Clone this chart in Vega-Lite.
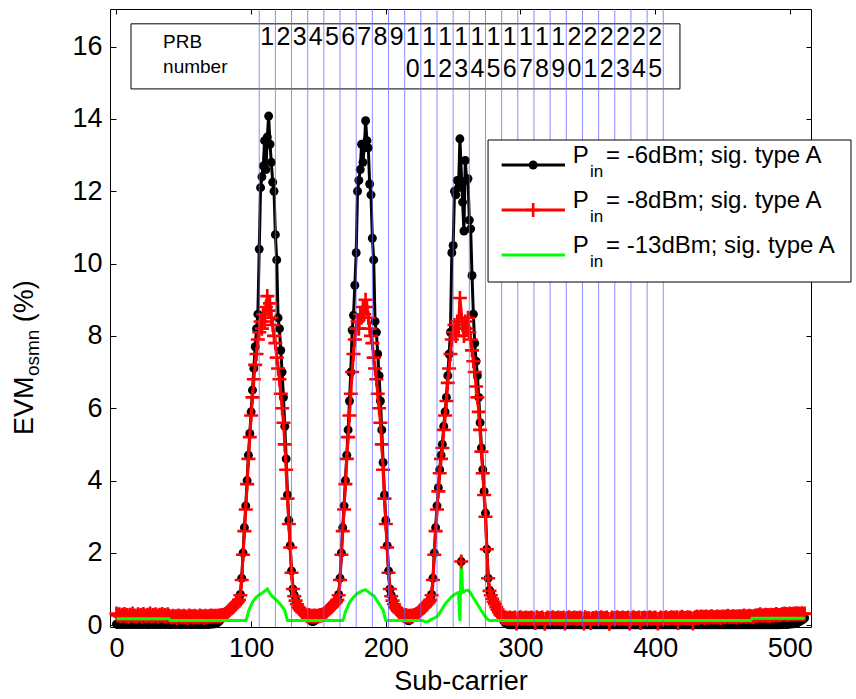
{
"$schema":"https://vega.github.io/schema/vega-lite/v6.json",
"width":701,"height":618,
"autosize":{"type":"none"},
"padding":{"left":110,"top":9,"right":45,"bottom":72},
"background":"white",
"config":{"view":{"stroke":"black","strokeWidth":1},"font":"Liberation Sans",
"axis":{"grid":false,"domain":false,"tickColor":"black","tickWidth":1,"labelColor":"black","titleColor":"black","labelFont":"Liberation Sans","titleFont":"Liberation Sans","labelFontSize":27,"titleFontSize":27,"titleFontWeight":"normal","labelFlush":false,"labelOverlap":false}},
"datasets":{
"main":[
{"s":0,"b":0.03,"r":0.32,"g":0.18},{"s":1,"b":0.02,"r":0.27,"g":0.18},{"s":2,"b":0.04,"r":0.30,"g":0.18},{"s":3,"b":0.03,"r":0.24,"g":0.18},{"s":4,"b":0.02,"r":0.29,"g":0.18},{"s":5,"b":0.03,"r":0.26,"g":0.18},{"s":6,"b":0.04,"r":0.31,"g":0.18},{"s":7,"b":0.02,"r":0.25,"g":0.18},{"s":8,"b":0.03,"r":0.28,"g":0.18},{"s":9,"b":0.02,"r":0.23,"g":0.18},
{"s":10,"b":0.04,"r":0.29,"g":0.18},{"s":11,"b":0.03,"r":0.26,"g":0.18},{"s":12,"b":0.02,"r":0.32,"g":0.18},{"s":13,"b":0.03,"r":0.25,"g":0.18},{"s":14,"b":0.04,"r":0.27,"g":0.18},{"s":15,"b":0.02,"r":0.24,"g":0.18},{"s":16,"b":0.03,"r":0.30,"g":0.18},{"s":17,"b":0.02,"r":0.26,"g":0.18},{"s":18,"b":0.04,"r":0.28,"g":0.18},{"s":19,"b":0.03,"r":0.23,"g":0.18},
{"s":20,"b":0.02,"r":0.31,"g":0.18},{"s":21,"b":0.03,"r":0.27,"g":0.18},{"s":22,"b":0.04,"r":0.25,"g":0.18},{"s":23,"b":0.02,"r":0.29,"g":0.18},{"s":24,"b":0.03,"r":0.26,"g":0.18},{"s":25,"b":0.02,"r":0.32,"g":0.18},{"s":26,"b":0.04,"r":0.24,"g":0.18},{"s":27,"b":0.03,"r":0.28,"g":0.18},{"s":28,"b":0.02,"r":0.25,"g":0.18},{"s":29,"b":0.03,"r":0.30,"g":0.18},
{"s":30,"b":0.04,"r":0.27,"g":0.18},{"s":31,"b":0.02,"r":0.23,"g":0.18},{"s":32,"b":0.03,"r":0.29,"g":0.18},{"s":33,"b":0.02,"r":0.26,"g":0.18},{"s":34,"b":0.04,"r":0.31,"g":0.18},{"s":35,"b":0.03,"r":0.25,"g":0.18},{"s":36,"b":0.02,"r":0.28,"g":0.18},{"s":37,"b":0.03,"r":0.24,"g":0.18},{"s":38,"b":0.04,"r":0.30,"g":0.18},{"s":39,"b":0.02,"r":0.26,"g":0.18},
{"s":40,"b":0.03,"r":0.24,"g":0.13},{"s":41,"b":0.02,"r":0.21,"g":0.13},{"s":42,"b":0.04,"r":0.26,"g":0.13},{"s":43,"b":0.03,"r":0.22,"g":0.13},{"s":44,"b":0.02,"r":0.25,"g":0.13},{"s":45,"b":0.03,"r":0.20,"g":0.13},{"s":46,"b":0.04,"r":0.27,"g":0.13},{"s":47,"b":0.02,"r":0.23,"g":0.13},{"s":48,"b":0.03,"r":0.25,"g":0.13},{"s":49,"b":0.02,"r":0.21,"g":0.13},
{"s":50,"b":0.04,"r":0.26,"g":0.13},{"s":51,"b":0.03,"r":0.22,"g":0.13},{"s":52,"b":0.02,"r":0.24,"g":0.13},{"s":53,"b":0.03,"r":0.20,"g":0.13},{"s":54,"b":0.04,"r":0.27,"g":0.13},{"s":55,"b":0.02,"r":0.23,"g":0.13},{"s":56,"b":0.03,"r":0.25,"g":0.13},{"s":57,"b":0.02,"r":0.21,"g":0.13},{"s":58,"b":0.04,"r":0.26,"g":0.13},{"s":59,"b":0.03,"r":0.22,"g":0.13},
{"s":60,"b":0.02,"r":0.24,"g":0.13},{"s":61,"b":0.03,"r":0.21,"g":0.13},{"s":62,"b":0.04,"r":0.27,"g":0.13},{"s":63,"b":0.02,"r":0.23,"g":0.13},{"s":64,"b":0.03,"r":0.25,"g":0.13},{"s":65,"b":0.02,"r":0.20,"g":0.13},{"s":66,"b":0.04,"r":0.26,"g":0.13},{"s":67,"b":0.03,"r":0.22,"g":0.13},{"s":68,"b":0.02,"r":0.25,"g":0.13},{"s":69,"b":0.03,"r":0.23,"g":0.13},
{"s":70,"b":0.04,"r":0.27,"g":0.13},{"s":71,"b":0.03,"r":0.24,"g":0.13},{"s":72,"b":0.04,"r":0.26,"g":0.13},{"s":73,"b":0.04,"r":0.25,"g":0.13},{"s":74,"b":0.05,"r":0.26,"g":0.13},{"s":75,"b":0.07,"r":0.24,"g":0.13},{"s":76,"b":0.10,"r":0.27,"g":0.13},{"s":77,"b":0.14,"r":0.25,"g":0.13},{"s":78,"b":0.18,"r":0.28,"g":0.13},{"s":79,"b":0.22,"r":0.26,"g":0.13},
{"s":80,"b":0.27,"r":0.29,"g":0.13},{"s":81,"b":0.32,"r":0.31,"g":0.13},{"s":82,"b":0.36,"r":0.34,"g":0.13},{"s":83,"b":0.40,"r":0.38,"g":0.13},{"s":84,"b":0.45,"r":0.42,"g":0.13},{"s":85,"b":0.48,"r":0.46,"g":0.13},{"s":86,"b":0.51,"r":0.49,"g":0.13},{"s":87,"b":0.54,"r":0.52,"g":0.13},{"s":88,"b":0.58,"r":0.56,"g":0.13},{"s":89,"b":0.62,"r":0.60,"g":0.13},
{"s":90,"b":0.66,"r":0.64,"g":0.13},{"s":91,"b":0.72,"r":0.70,"g":0.13},{"s":92,"b":0.85,"r":0.83,"g":0.13},{"s":93,"b":1.3,"r":1.25,"g":0.13},{"s":94,"b":2.0,"r":1.95,"g":0.13},{"s":95,"b":2.7,"r":2.6,"g":0.13},{"s":96,"b":3.3,"r":3.2,"g":0.13},{"s":97,"b":4.0,"r":3.9,"g":0.22},{"s":98,"b":4.7,"r":4.6,"g":0.38},{"s":99,"b":5.3,"r":5.2,"g":0.47},
{"s":100,"b":5.9,"r":5.8,"g":0.56},{"s":101,"b":6.5,"r":6.3,"g":0.63},{"s":102,"b":7.1,"r":6.8,"g":0.69},{"s":103,"b":7.7,"r":7.2,"g":0.74},{"s":104,"b":8.2,"r":7.5,"g":0.78},{"s":105,"b":8.6,"r":7.9,"g":0.81},{"s":106,"b":10.4,"r":8.1,"g":0.84},{"s":107,"b":12.1,"r":8.4,"g":0.86},{"s":108,"b":12.4,"r":8.2,"g":0.89},{"s":109,"b":12.7,"r":8.6,"g":0.91},
{"s":110,"b":13.4,"r":8.4,"g":0.94},{"s":111,"b":12.6,"r":8.8,"g":0.97},{"s":112,"b":13.5,"r":9.1,"g":1.0},{"s":113,"b":14.08,"r":8.7,"g":0.94},{"s":114,"b":13.3,"r":8.9,"g":0.88},{"s":115,"b":12.8,"r":8.5,"g":0.83},{"s":116,"b":12.25,"r":8.3,"g":0.79},{"s":117,"b":12.0,"r":8.0,"g":0.75},{"s":118,"b":10.8,"r":7.8,"g":0.72},{"s":119,"b":10.1,"r":7.4,"g":0.69},
{"s":120,"b":8.5,"r":7.1,"g":0.65},{"s":121,"b":8.2,"r":6.8,"g":0.61},{"s":122,"b":7.6,"r":6.4,"g":0.56},{"s":123,"b":7.0,"r":6.0,"g":0.51},{"s":124,"b":6.3,"r":5.6,"g":0.46},{"s":125,"b":5.5,"r":5.0,"g":0.41},{"s":126,"b":4.6,"r":4.3,"g":0.26},{"s":127,"b":3.6,"r":3.5,"g":0.13},{"s":128,"b":2.9,"r":2.8,"g":0.13},{"s":129,"b":2.2,"r":2.15,"g":0.13},
{"s":130,"b":1.5,"r":1.45,"g":0.13},{"s":131,"b":1.0,"r":1.0,"g":0.13},{"s":132,"b":0.83,"r":0.8,"g":0.13},{"s":133,"b":0.7,"r":0.68,"g":0.13},{"s":134,"b":0.6,"r":0.58,"g":0.13},{"s":135,"b":0.53,"r":0.5,"g":0.13},{"s":136,"b":0.47,"r":0.45,"g":0.13},{"s":137,"b":0.42,"r":0.4,"g":0.13},{"s":138,"b":0.38,"r":0.36,"g":0.13},{"s":139,"b":0.34,"r":0.33,"g":0.13},
{"s":140,"b":0.30,"r":0.3,"g":0.13},{"s":141,"b":0.26,"r":0.27,"g":0.13},{"s":142,"b":0.22,"r":0.25,"g":0.13},{"s":143,"b":0.18,"r":0.28,"g":0.13},{"s":144,"b":0.14,"r":0.24,"g":0.13},{"s":145,"b":0.11,"r":0.26,"g":0.13},{"s":146,"b":0.10,"r":0.23,"g":0.13},{"s":147,"b":0.12,"r":0.27,"g":0.13},{"s":148,"b":0.15,"r":0.24,"g":0.13},{"s":149,"b":0.18,"r":0.26,"g":0.13},
{"s":150,"b":0.20,"r":0.25,"g":0.13},{"s":151,"b":0.22,"r":0.28,"g":0.13},{"s":152,"b":0.25,"r":0.26,"g":0.13},{"s":153,"b":0.27,"r":0.29,"g":0.13},{"s":154,"b":0.32,"r":0.31,"g":0.13},{"s":155,"b":0.36,"r":0.34,"g":0.13},{"s":156,"b":0.40,"r":0.38,"g":0.13},{"s":157,"b":0.45,"r":0.42,"g":0.13},{"s":158,"b":0.48,"r":0.46,"g":0.13},{"s":159,"b":0.51,"r":0.49,"g":0.13},
{"s":160,"b":0.54,"r":0.52,"g":0.13},{"s":161,"b":0.58,"r":0.56,"g":0.13},{"s":162,"b":0.62,"r":0.60,"g":0.13},{"s":163,"b":0.66,"r":0.64,"g":0.13},{"s":164,"b":0.72,"r":0.70,"g":0.13},{"s":165,"b":0.85,"r":0.83,"g":0.13},{"s":166,"b":1.3,"r":1.25,"g":0.13},{"s":167,"b":2.0,"r":1.95,"g":0.13},{"s":168,"b":2.7,"r":2.6,"g":0.13},{"s":169,"b":3.3,"r":3.2,"g":0.22},
{"s":170,"b":4.0,"r":3.9,"g":0.38},{"s":171,"b":4.7,"r":4.6,"g":0.45},{"s":172,"b":5.4,"r":5.2,"g":0.54},{"s":173,"b":6.2,"r":5.8,"g":0.62},{"s":174,"b":7.0,"r":6.4,"g":0.68},{"s":175,"b":8.16,"r":7.0,"g":0.73},{"s":176,"b":8.57,"r":7.5,"g":0.78},{"s":177,"b":9.4,"r":7.9,"g":0.81},{"s":178,"b":10.3,"r":8.2,"g":0.85},{"s":179,"b":12.0,"r":8.4,"g":0.88},
{"s":180,"b":12.3,"r":8.2,"g":0.9},{"s":181,"b":12.6,"r":8.6,"g":0.92},{"s":182,"b":13.3,"r":8.5,"g":0.94},{"s":183,"b":12.8,"r":8.8,"g":0.96},{"s":184,"b":13.2,"r":8.6,"g":0.97},{"s":185,"b":13.95,"r":9.0,"g":0.98},{"s":186,"b":13.4,"r":8.8,"g":0.95},{"s":187,"b":13.2,"r":8.5,"g":0.92},{"s":188,"b":12.2,"r":8.2,"g":0.89},{"s":189,"b":11.9,"r":8.0,"g":0.86},
{"s":190,"b":10.7,"r":7.8,"g":0.84},{"s":191,"b":10.1,"r":7.4,"g":0.82},{"s":192,"b":8.4,"r":7.1,"g":0.77},{"s":193,"b":8.1,"r":6.8,"g":0.71},{"s":194,"b":7.5,"r":6.4,"g":0.65},{"s":195,"b":6.9,"r":6.0,"g":0.59},{"s":196,"b":6.2,"r":5.6,"g":0.53},{"s":197,"b":5.4,"r":5.0,"g":0.47},{"s":198,"b":4.5,"r":4.3,"g":0.42},{"s":199,"b":3.6,"r":3.5,"g":0.25},
{"s":200,"b":2.9,"r":2.8,"g":0.13},{"s":201,"b":2.2,"r":2.15,"g":0.13},{"s":202,"b":1.5,"r":1.45,"g":0.13},{"s":203,"b":1.0,"r":1.0,"g":0.13},{"s":204,"b":0.83,"r":0.8,"g":0.13},{"s":205,"b":0.7,"r":0.68,"g":0.13},{"s":206,"b":0.6,"r":0.58,"g":0.13},{"s":207,"b":0.53,"r":0.5,"g":0.13},{"s":208,"b":0.47,"r":0.45,"g":0.13},{"s":209,"b":0.42,"r":0.4,"g":0.13},
{"s":210,"b":0.38,"r":0.36,"g":0.13},{"s":211,"b":0.34,"r":0.33,"g":0.13},{"s":212,"b":0.30,"r":0.3,"g":0.13},{"s":213,"b":0.26,"r":0.27,"g":0.13},{"s":214,"b":0.22,"r":0.25,"g":0.13},{"s":215,"b":0.18,"r":0.28,"g":0.13},{"s":216,"b":0.14,"r":0.24,"g":0.13},{"s":217,"b":0.12,"r":0.26,"g":0.13},{"s":218,"b":0.15,"r":0.23,"g":0.13},{"s":219,"b":0.18,"r":0.27,"g":0.13},
{"s":220,"b":0.21,"r":0.25,"g":0.13},{"s":221,"b":0.24,"r":0.28,"g":0.13},{"s":222,"b":0.27,"r":0.29,"g":0.13},{"s":223,"b":0.32,"r":0.31,"g":0.13},{"s":224,"b":0.36,"r":0.34,"g":0.13},{"s":225,"b":0.40,"r":0.38,"g":0.13},{"s":226,"b":0.45,"r":0.42,"g":0.13},{"s":227,"b":0.48,"r":0.46,"g":0.13},{"s":228,"b":0.51,"r":0.49,"g":0.12},{"s":229,"b":0.54,"r":0.52,"g":0.10},
{"s":230,"b":0.58,"r":0.56,"g":0.09},{"s":231,"b":0.62,"r":0.60,"g":0.10},{"s":232,"b":0.66,"r":0.64,"g":0.12},{"s":233,"b":0.72,"r":0.70,"g":0.14},{"s":234,"b":0.85,"r":0.83,"g":0.16},{"s":235,"b":1.3,"r":1.25,"g":0.18},{"s":236,"b":2.0,"r":1.95,"g":0.2},{"s":237,"b":2.7,"r":2.6,"g":0.22},{"s":238,"b":3.3,"r":3.2,"g":0.24},{"s":239,"b":3.8,"r":3.7,"g":0.28},
{"s":240,"b":4.3,"r":4.2,"g":0.34},{"s":241,"b":4.7,"r":4.6,"g":0.4},{"s":242,"b":5.0,"r":4.9,"g":0.46},{"s":243,"b":5.5,"r":5.4,"g":0.52},{"s":244,"b":5.9,"r":5.8,"g":0.58},{"s":245,"b":6.3,"r":6.2,"g":0.63},{"s":246,"b":6.9,"r":6.7,"g":0.67},{"s":247,"b":7.5,"r":7.1,"g":0.71},{"s":248,"b":8.1,"r":7.5,"g":0.75},{"s":249,"b":10.3,"r":7.9,"g":0.79},
{"s":250,"b":10.5,"r":8.1,"g":0.82},{"s":251,"b":12.0,"r":8.3,"g":0.85},{"s":252,"b":11.9,"r":8.0,"g":0.87},{"s":253,"b":12.3,"r":8.4,"g":0.89},{"s":254,"b":12.1,"r":8.2,"g":0.9},{"s":255,"b":13.45,"r":9.05,"g":0.12},{"s":256,"b":null,"r":null,"g":1.94},{"s":257,"b":11.7,"r":8.3,"g":0.91},{"s":258,"b":10.9,"r":8.0,"g":0.93},{"s":259,"b":12.85,"r":8.4,"g":0.95},
{"s":260,"b":12.3,"r":8.2,"g":0.96},{"s":261,"b":12.35,"r":8.5,"g":0.97},{"s":262,"b":11.2,"r":8.1,"g":0.94},{"s":263,"b":10.96,"r":7.9,"g":0.88},{"s":264,"b":9.67,"r":7.6,"g":0.82},{"s":265,"b":8.6,"r":7.3,"g":0.76},{"s":266,"b":7.8,"r":7.0,"g":0.7},{"s":267,"b":7.3,"r":6.6,"g":0.64},{"s":268,"b":6.9,"r":6.3,"g":0.58},{"s":269,"b":6.3,"r":5.9,"g":0.52},
{"s":270,"b":5.6,"r":5.4,"g":0.46},{"s":271,"b":4.9,"r":4.8,"g":0.4},{"s":272,"b":4.3,"r":4.2,"g":0.34},{"s":273,"b":3.7,"r":3.6,"g":0.28},{"s":274,"b":3.1,"r":3.0,"g":0.23},{"s":275,"b":2.1,"r":2.1,"g":0.19},{"s":276,"b":1.3,"r":1.3,"g":0.15},{"s":277,"b":0.97,"r":0.95,"g":0.13},{"s":278,"b":0.85,"r":0.83,"g":0.13},{"s":279,"b":0.75,"r":0.73,"g":0.13},
{"s":280,"b":0.67,"r":0.65,"g":0.13},{"s":281,"b":0.6,"r":0.58,"g":0.13},{"s":282,"b":0.52,"r":0.5,"g":0.13},{"s":283,"b":0.45,"r":0.43,"g":0.13},{"s":284,"b":0.38,"r":0.36,"g":0.13},{"s":285,"b":0.3,"r":0.3,"g":0.13},{"s":286,"b":0.22,"r":0.26,"g":0.13},{"s":287,"b":0.15,"r":0.22,"g":0.13},{"s":288,"b":0.1,"r":0.19,"g":0.13},{"s":289,"b":0.06,"r":0.21,"g":0.13},
{"s":290,"b":0.04,"r":0.18,"g":0.13},{"s":291,"b":0.02,"r":0.19,"g":0.13},{"s":292,"b":0.01,"r":0.21,"g":0.13},{"s":293,"b":0.02,"r":0.18,"g":0.13},{"s":294,"b":0.01,"r":0.20,"g":0.13},{"s":295,"b":0.03,"r":0.17,"g":0.13},{"s":296,"b":0.01,"r":0.21,"g":0.13},{"s":297,"b":0.02,"r":0.05,"g":0.13},{"s":298,"b":0.01,"r":0.18,"g":0.13},{"s":299,"b":0.02,"r":0.20,"g":0.13},
{"s":300,"b":0.01,"r":0.22,"g":0.13},{"s":301,"b":0.03,"r":0.18,"g":0.13},{"s":302,"b":0.01,"r":0.19,"g":0.13},{"s":303,"b":0.02,"r":0.19,"g":0.13},{"s":304,"b":0.01,"r":0.21,"g":0.13},{"s":305,"b":0.02,"r":0.18,"g":0.13},{"s":306,"b":0.01,"r":0.20,"g":0.13},{"s":307,"b":0.03,"r":0.17,"g":0.13},{"s":308,"b":0.01,"r":0.21,"g":0.13},{"s":309,"b":0.02,"r":0.19,"g":0.13},
{"s":310,"b":0.01,"r":0.18,"g":0.13},{"s":311,"b":0.02,"r":0.06,"g":0.13},{"s":312,"b":0.01,"r":0.22,"g":0.13},{"s":313,"b":0.03,"r":0.18,"g":0.13},{"s":314,"b":0.01,"r":0.19,"g":0.13},{"s":315,"b":0.02,"r":0.19,"g":0.13},{"s":316,"b":0.01,"r":0.21,"g":0.13},{"s":317,"b":0.02,"r":0.18,"g":0.13},{"s":318,"b":0.01,"r":0.04,"g":0.13},{"s":319,"b":0.03,"r":0.17,"g":0.13},
{"s":320,"b":0.01,"r":0.21,"g":0.13},{"s":321,"b":0.02,"r":0.19,"g":0.13},{"s":322,"b":0.01,"r":0.18,"g":0.13},{"s":323,"b":0.02,"r":0.20,"g":0.13},{"s":324,"b":0.01,"r":0.22,"g":0.13},{"s":325,"b":0.03,"r":0.18,"g":0.13},{"s":326,"b":0.01,"r":0.19,"g":0.13},{"s":327,"b":0.02,"r":0.19,"g":0.13},{"s":328,"b":0.01,"r":0.21,"g":0.13},{"s":329,"b":0.02,"r":0.18,"g":0.13},
{"s":330,"b":0.01,"r":0.20,"g":0.13},{"s":331,"b":0.03,"r":0.17,"g":0.13},{"s":332,"b":0.01,"r":0.21,"g":0.13},{"s":333,"b":0.02,"r":0.05,"g":0.13},{"s":334,"b":0.01,"r":0.18,"g":0.13},{"s":335,"b":0.02,"r":0.20,"g":0.13},{"s":336,"b":0.01,"r":0.22,"g":0.13},{"s":337,"b":0.03,"r":0.18,"g":0.13},{"s":338,"b":0.01,"r":0.19,"g":0.13},{"s":339,"b":0.02,"r":0.19,"g":0.13},
{"s":340,"b":0.01,"r":0.21,"g":0.13},{"s":341,"b":0.02,"r":0.18,"g":0.13},{"s":342,"b":0.01,"r":0.20,"g":0.13},{"s":343,"b":0.03,"r":0.17,"g":0.13},{"s":344,"b":0.01,"r":0.21,"g":0.13},{"s":345,"b":0.02,"r":0.19,"g":0.13},{"s":346,"b":0.01,"r":0.18,"g":0.13},{"s":347,"b":0.02,"r":0.05,"g":0.13},{"s":348,"b":0.01,"r":0.22,"g":0.13},{"s":349,"b":0.03,"r":0.18,"g":0.13},
{"s":350,"b":0.01,"r":0.19,"g":0.13},{"s":351,"b":0.02,"r":0.19,"g":0.13},{"s":352,"b":0.01,"r":0.06,"g":0.13},{"s":353,"b":0.02,"r":0.18,"g":0.13},{"s":354,"b":0.01,"r":0.20,"g":0.13},{"s":355,"b":0.03,"r":0.17,"g":0.13},{"s":356,"b":0.01,"r":0.21,"g":0.13},{"s":357,"b":0.02,"r":0.19,"g":0.13},{"s":358,"b":0.01,"r":0.18,"g":0.13},{"s":359,"b":0.02,"r":0.20,"g":0.13},
{"s":360,"b":0.01,"r":0.22,"g":0.13},{"s":361,"b":0.03,"r":0.18,"g":0.13},{"s":362,"b":0.01,"r":0.19,"g":0.13},{"s":363,"b":0.02,"r":0.19,"g":0.13},{"s":364,"b":0.01,"r":0.21,"g":0.13},{"s":365,"b":0.02,"r":0.18,"g":0.13},{"s":366,"b":0.01,"r":0.04,"g":0.13},{"s":367,"b":0.03,"r":0.17,"g":0.13},{"s":368,"b":0.01,"r":0.21,"g":0.13},{"s":369,"b":0.02,"r":0.19,"g":0.13},
{"s":370,"b":0.01,"r":0.18,"g":0.13},{"s":371,"b":0.02,"r":0.20,"g":0.13},{"s":372,"b":0.01,"r":0.22,"g":0.13},{"s":373,"b":0.03,"r":0.18,"g":0.13},{"s":374,"b":0.01,"r":0.19,"g":0.13},{"s":375,"b":0.02,"r":0.19,"g":0.13},{"s":376,"b":0.01,"r":0.21,"g":0.13},{"s":377,"b":0.02,"r":0.18,"g":0.13},{"s":378,"b":0.01,"r":0.20,"g":0.13},{"s":379,"b":0.03,"r":0.17,"g":0.13},
{"s":380,"b":0.01,"r":0.21,"g":0.13},{"s":381,"b":0.02,"r":0.05,"g":0.13},{"s":382,"b":0.01,"r":0.18,"g":0.13},{"s":383,"b":0.02,"r":0.20,"g":0.13},{"s":384,"b":0.01,"r":0.22,"g":0.13},{"s":385,"b":0.03,"r":0.18,"g":0.13},{"s":386,"b":0.01,"r":0.19,"g":0.13},{"s":387,"b":0.02,"r":0.19,"g":0.13},{"s":388,"b":0.01,"r":0.21,"g":0.13},{"s":389,"b":0.02,"r":0.06,"g":0.13},
{"s":390,"b":0.01,"r":0.20,"g":0.13},{"s":391,"b":0.03,"r":0.17,"g":0.13},{"s":392,"b":0.01,"r":0.21,"g":0.13},{"s":393,"b":0.02,"r":0.19,"g":0.13},{"s":394,"b":0.01,"r":0.18,"g":0.13},{"s":395,"b":0.02,"r":0.20,"g":0.13},{"s":396,"b":0.01,"r":0.22,"g":0.13},{"s":397,"b":0.03,"r":0.18,"g":0.13},{"s":398,"b":0.01,"r":0.19,"g":0.13},{"s":399,"b":0.02,"r":0.19,"g":0.13},
{"s":400,"b":0.01,"r":0.21,"g":0.13},{"s":401,"b":0.02,"r":0.18,"g":0.13},{"s":402,"b":0.01,"r":0.05,"g":0.13},{"s":403,"b":0.03,"r":0.17,"g":0.13},{"s":404,"b":0.01,"r":0.21,"g":0.13},{"s":405,"b":0.02,"r":0.19,"g":0.13},{"s":406,"b":0.01,"r":0.18,"g":0.13},{"s":407,"b":0.02,"r":0.20,"g":0.13},{"s":408,"b":0.01,"r":0.22,"g":0.13},{"s":409,"b":0.03,"r":0.18,"g":0.13},
{"s":410,"b":0.01,"r":0.19,"g":0.13},{"s":411,"b":0.02,"r":0.20,"g":0.13},{"s":412,"b":0.01,"r":0.22,"g":0.13},{"s":413,"b":0.02,"r":0.19,"g":0.13},{"s":414,"b":0.01,"r":0.21,"g":0.13},{"s":415,"b":0.03,"r":0.18,"g":0.13},{"s":416,"b":0.01,"r":0.22,"g":0.13},{"s":417,"b":0.02,"r":0.06,"g":0.13},{"s":418,"b":0.01,"r":0.19,"g":0.13},{"s":419,"b":0.02,"r":0.21,"g":0.13},
{"s":420,"b":0.01,"r":0.23,"g":0.13},{"s":421,"b":0.03,"r":0.19,"g":0.13},{"s":422,"b":0.01,"r":0.20,"g":0.13},{"s":423,"b":0.02,"r":0.20,"g":0.13},{"s":424,"b":0.01,"r":0.22,"g":0.13},{"s":425,"b":0.02,"r":0.19,"g":0.13},{"s":426,"b":0.01,"r":0.21,"g":0.13},{"s":427,"b":0.03,"r":0.18,"g":0.13},{"s":428,"b":0.01,"r":0.05,"g":0.13},{"s":429,"b":0.02,"r":0.20,"g":0.13},
{"s":430,"b":0.01,"r":0.22,"g":0.13},{"s":431,"b":0.02,"r":0.24,"g":0.13},{"s":432,"b":0.01,"r":0.21,"g":0.13},{"s":433,"b":0.03,"r":0.22,"g":0.13},{"s":434,"b":0.01,"r":0.24,"g":0.13},{"s":435,"b":0.02,"r":0.21,"g":0.13},{"s":436,"b":0.01,"r":0.23,"g":0.13},{"s":437,"b":0.02,"r":0.20,"g":0.13},{"s":438,"b":0.01,"r":0.24,"g":0.13},{"s":439,"b":0.03,"r":0.22,"g":0.13},
{"s":440,"b":0.01,"r":0.21,"g":0.13},{"s":441,"b":0.02,"r":0.23,"g":0.13},{"s":442,"b":0.01,"r":0.25,"g":0.13},{"s":443,"b":0.02,"r":0.21,"g":0.13},{"s":444,"b":0.01,"r":0.22,"g":0.13},{"s":445,"b":0.03,"r":0.22,"g":0.13},{"s":446,"b":0.01,"r":0.24,"g":0.13},{"s":447,"b":0.02,"r":0.21,"g":0.13},{"s":448,"b":0.01,"r":0.23,"g":0.13},{"s":449,"b":0.02,"r":0.20,"g":0.13},
{"s":450,"b":0.01,"r":0.24,"g":0.13},{"s":451,"b":0.03,"r":0.23,"g":0.13},{"s":452,"b":0.01,"r":0.22,"g":0.13},{"s":453,"b":0.02,"r":0.24,"g":0.13},{"s":454,"b":0.01,"r":0.26,"g":0.13},{"s":455,"b":0.02,"r":0.22,"g":0.13},{"s":456,"b":0.01,"r":0.23,"g":0.13},{"s":457,"b":0.03,"r":0.23,"g":0.13},{"s":458,"b":0.01,"r":0.25,"g":0.13},{"s":459,"b":0.02,"r":0.22,"g":0.13},
{"s":460,"b":0.01,"r":0.24,"g":0.13},{"s":461,"b":0.02,"r":0.21,"g":0.13},{"s":462,"b":0.01,"r":0.25,"g":0.13},{"s":463,"b":0.03,"r":0.24,"g":0.13},{"s":464,"b":0.01,"r":0.23,"g":0.13},{"s":465,"b":0.02,"r":0.25,"g":0.13},{"s":466,"b":0.01,"r":0.27,"g":0.13},{"s":467,"b":0.02,"r":0.23,"g":0.13},{"s":468,"b":0.01,"r":0.24,"g":0.13},{"s":469,"b":0.03,"r":0.24,"g":0.13},
{"s":470,"b":0.01,"r":0.26,"g":0.13},{"s":471,"b":0.02,"r":0.23,"g":0.13},{"s":472,"b":0.01,"r":0.25,"g":0.19},{"s":473,"b":0.02,"r":0.22,"g":0.19},{"s":474,"b":0.01,"r":0.26,"g":0.19},{"s":475,"b":0.03,"r":0.27,"g":0.19},{"s":476,"b":0.01,"r":0.26,"g":0.19},{"s":477,"b":0.02,"r":0.28,"g":0.19},{"s":478,"b":0.01,"r":0.30,"g":0.19},{"s":479,"b":0.02,"r":0.26,"g":0.19},
{"s":480,"b":0.01,"r":0.27,"g":0.19},{"s":481,"b":0.03,"r":0.27,"g":0.19},{"s":482,"b":0.01,"r":0.29,"g":0.19},{"s":483,"b":0.02,"r":0.26,"g":0.19},{"s":484,"b":0.01,"r":0.28,"g":0.19},{"s":485,"b":0.02,"r":0.25,"g":0.19},{"s":486,"b":0.01,"r":0.29,"g":0.19},{"s":487,"b":0.03,"r":0.28,"g":0.19},{"s":488,"b":0.01,"r":0.27,"g":0.19},{"s":489,"b":0.02,"r":0.29,"g":0.19},
{"s":490,"b":0.01,"r":0.31,"g":0.19},{"s":491,"b":0.02,"r":0.27,"g":0.19},{"s":492,"b":0.01,"r":0.28,"g":0.19},{"s":493,"b":0.03,"r":0.28,"g":0.19},{"s":494,"b":0.02,"r":0.30,"g":0.19},{"s":495,"b":0.02,"r":0.30,"g":0.19},{"s":496,"b":0.02,"r":0.32,"g":0.19},{"s":497,"b":0.03,"r":0.29,"g":0.19},{"s":498,"b":0.02,"r":0.31,"g":0.19},{"s":499,"b":0.03,"r":0.28,"g":0.19},
{"s":500,"b":0.04,"r":0.32,"g":0.19},{"s":501,"b":0.03,"r":0.31,"g":0.19},{"s":502,"b":0.05,"r":0.30,"g":0.19},{"s":503,"b":0.04,"r":0.32,"g":0.19},{"s":504,"b":0.05,"r":0.30,"g":0.19},{"s":505,"b":0.06,"r":0.33,"g":0.19},{"s":506,"b":0.08,"r":0.31,"g":0.19},{"s":507,"b":0.10,"r":0.32,"g":0.19},{"s":508,"b":0.12,"r":0.30,"g":0.19},{"s":509,"b":0.14,"r":0.33,"g":0.19},
{"s":510,"b":0.17,"r":0.31,"g":0.19},{"s":511,"b":0.20,"r":0.32,"g":0.19}
],
"dc":[{"s":256,"b":1.76,"r":1.76}],
"edges":[{"e":106},{"e":118},{"e":130},{"e":142},{"e":154},{"e":166},{"e":178},{"e":190},{"e":202},{"e":214},{"e":226},{"e":238},{"e":250},{"e":262},{"e":274},{"e":286},{"e":298},{"e":310},{"e":322},{"e":334},{"e":346},{"e":358},{"e":370},{"e":382},{"e":394},{"e":406}],
"prb":[{"k":1,"c":112,"t1":"1","t2":""},{"k":2,"c":124,"t1":"2","t2":""},{"k":3,"c":136,"t1":"3","t2":""},{"k":4,"c":148,"t1":"4","t2":""},{"k":5,"c":160,"t1":"5","t2":""},{"k":6,"c":172,"t1":"6","t2":""},{"k":7,"c":184,"t1":"7","t2":""},{"k":8,"c":196,"t1":"8","t2":""},{"k":9,"c":208,"t1":"9","t2":""},{"k":10,"c":220,"t1":"1","t2":"0"},{"k":11,"c":232,"t1":"1","t2":"1"},{"k":12,"c":244,"t1":"1","t2":"2"},{"k":13,"c":256,"t1":"1","t2":"3"},{"k":14,"c":268,"t1":"1","t2":"4"},{"k":15,"c":280,"t1":"1","t2":"5"},{"k":16,"c":292,"t1":"1","t2":"6"},{"k":17,"c":304,"t1":"1","t2":"7"},{"k":18,"c":316,"t1":"1","t2":"8"},{"k":19,"c":328,"t1":"1","t2":"9"},{"k":20,"c":340,"t1":"2","t2":"0"},{"k":21,"c":352,"t1":"2","t2":"1"},{"k":22,"c":364,"t1":"2","t2":"2"},{"k":23,"c":376,"t1":"2","t2":"3"},{"k":24,"c":388,"t1":"2","t2":"4"},{"k":25,"c":400,"t1":"2","t2":"5"}]
},
"layer":[
{"data":{"values":[{}]},"mark":{"type":"rect","fill":"white","stroke":"black","strokeWidth":1},
 "encoding":{"x":{"datum":10.8,"type":"quantitative","axis":null},"x2":{"datum":418.4},"y":{"datum":16.63,"type":"quantitative","axis":null},"y2":{"datum":14.83}}},
{"data":{"values":[{}]},"mark":{"type":"text","text":"PRB","align":"left","baseline":"alphabetic","fontSize":19,"color":"black"},
 "encoding":{"x":{"datum":34.6,"type":"quantitative","axis":null},"y":{"datum":15.953,"type":"quantitative","axis":null}}},
{"data":{"values":[{}]},"mark":{"type":"text","text":"number","align":"left","baseline":"alphabetic","fontSize":19,"color":"black"},
 "encoding":{"x":{"datum":34.6,"type":"quantitative","axis":null},"y":{"datum":15.262,"type":"quantitative","axis":null}}},
{"data":{"name":"prb"},"mark":{"type":"text","align":"center","baseline":"alphabetic","fontSize":25,"color":"black"},
 "encoding":{"x":{"field":"c","type":"quantitative","axis":null},"y":{"datum":16.044,"type":"quantitative","axis":null},"text":{"field":"t1"}}},
{"data":{"name":"prb"},"mark":{"type":"text","align":"center","baseline":"alphabetic","fontSize":25,"color":"black"},
 "encoding":{"x":{"field":"c","type":"quantitative","axis":null},"y":{"datum":15.151,"type":"quantitative","axis":null},"text":{"field":"t2"}}},
{"data":{"name":"main"},"mark":{"type":"line","color":"black","strokeWidth":3,"invalid":"filter"},
 "encoding":{
  "x":{"field":"s","type":"quantitative","scale":{"domain":[-4.8,515.7],"nice":false,"zero":false},
   "axis":{"orient":"bottom","values":[0,100,200,300,400,500],"tickSize":-6,"labelPadding":14,"title":"Sub-carrier","titleY":62,"titleBaseline":"alphabetic"}},
  "y":{"field":"b","type":"quantitative","scale":{"domain":[-0.05,17.04],"nice":false,"zero":false},
   "axis":{"orient":"left","values":[0,2,4,6,8,10,12,14,16],"tickSize":-6,"labelPadding":14,"title":null}}}},
{"data":{"name":"main"},"mark":{"type":"point","shape":"circle","filled":true,"color":"black","size":80,"opacity":1,"invalid":"filter"},
 "encoding":{"x":{"field":"s","type":"quantitative","axis":null},"y":{"field":"b","type":"quantitative","axis":null}}},
{"data":{"name":"main"},"mark":{"type":"line","color":"#ff0000","strokeWidth":3,"invalid":"filter"},
 "encoding":{"x":{"field":"s","type":"quantitative","axis":null},"y":{"field":"r","type":"quantitative","axis":null}}},
{"data":{"name":"main"},"mark":{"type":"point","shape":"M-1,0L1,0M0,-1L0,1","filled":false,"color":"#ff0000","size":196,"strokeWidth":2.6,"opacity":1,"invalid":"filter"},
 "encoding":{"x":{"field":"s","type":"quantitative","axis":null},"y":{"field":"r","type":"quantitative","axis":null}}},
{"data":{"name":"main"},"mark":{"type":"line","color":"#00ff00","strokeWidth":3},
 "encoding":{
  "x":{"field":"s","type":"quantitative","axis":{"orient":"top","values":[0,100,200,300,400,500],"tickSize":-5,"labels":false,"title":null}},
  "y":{"field":"g","type":"quantitative","axis":{"orient":"right","values":[0,2,4,6,8,10,12,14,16],"tickSize":-5,"labels":false,"title":null}}}},
{"data":{"name":"dc"},"mark":{"type":"point","shape":"circle","filled":true,"color":"black","size":80,"opacity":1},
 "encoding":{"x":{"field":"s","type":"quantitative","axis":null},"y":{"field":"b","type":"quantitative","axis":null}}},
{"data":{"name":"dc"},"mark":{"type":"point","shape":"M-1,0L1,0M0,-1L0,1","filled":false,"color":"#ff0000","size":196,"strokeWidth":2.6,"opacity":1},
 "encoding":{"x":{"field":"s","type":"quantitative","axis":null},"y":{"field":"r","type":"quantitative","axis":null}}},
{"data":{"name":"edges"},"mark":{"type":"rule","color":"#6666ff","strokeWidth":1,"opacity":0.75},
 "encoding":{"x":{"field":"e","type":"quantitative","axis":null}}},
{"data":{"values":[{}]},"mark":{"type":"text","text":"EVM","angle":270,"align":"left","baseline":"alphabetic","fontSize":27,"color":"black"},
 "encoding":{"x":{"datum":-61.75,"type":"quantitative","axis":null},"y":{"datum":5.26,"type":"quantitative","axis":null}}},
{"data":{"values":[{}]},"mark":{"type":"text","text":"osmn","angle":270,"align":"left","baseline":"alphabetic","fontSize":19,"color":"black"},
 "encoding":{"x":{"datum":-57.3,"type":"quantitative","axis":null},"y":{"datum":6.89,"type":"quantitative","axis":null}}},
{"data":{"values":[{}]},"mark":{"type":"text","text":"(%)","angle":270,"align":"left","baseline":"alphabetic","fontSize":27,"color":"black"},
 "encoding":{"x":{"datum":-61.75,"type":"quantitative","axis":null},"y":{"datum":8.38,"type":"quantitative","axis":null}}},
{"data":{"values":[{}]},"mark":{"type":"rect","fill":"white","stroke":"black","strokeWidth":1},
 "encoding":{"x":{"datum":275.9,"type":"quantitative","axis":null},"x2":{"datum":545.4},"y":{"datum":13.417,"type":"quantitative","axis":null},"y2":{"datum":9.49}}},
{"data":{"values":[{}]},"mark":{"type":"rule","color":"black","strokeWidth":3},
 "encoding":{"x":{"datum":286.0,"type":"quantitative","axis":null},"x2":{"datum":333.0},"y":{"datum":12.726,"type":"quantitative","axis":null}}},
{"data":{"values":[{}]},"mark":{"type":"point","shape":"circle","filled":true,"color":"black","size":80,"opacity":1},
 "encoding":{"x":{"datum":309.4,"type":"quantitative","axis":null},"y":{"datum":12.726,"type":"quantitative","axis":null}}},
{"data":{"values":[{}]},"mark":{"type":"rule","color":"#ff0000","strokeWidth":3},
 "encoding":{"x":{"datum":286.0,"type":"quantitative","axis":null},"x2":{"datum":333.0},"y":{"datum":11.481,"type":"quantitative","axis":null}}},
{"data":{"values":[{}]},"mark":{"type":"point","shape":"M-1,0L1,0M0,-1L0,1","filled":false,"color":"#ff0000","size":196,"strokeWidth":2.6,"opacity":1},
 "encoding":{"x":{"datum":309.4,"type":"quantitative","axis":null},"y":{"datum":11.481,"type":"quantitative","axis":null}}},
{"data":{"values":[{}]},"mark":{"type":"rule","color":"#00ff00","strokeWidth":3},
 "encoding":{"x":{"datum":286.0,"type":"quantitative","axis":null},"x2":{"datum":333.0},"y":{"datum":10.237,"type":"quantitative","axis":null}}},
{"data":{"values":[{}]},"mark":{"type":"text","text":"P","align":"left","baseline":"alphabetic","fontSize":24,"dy":-2,"color":"black"},
 "encoding":{"x":{"datum":338.8,"type":"quantitative","axis":null},"y":{"datum":12.726,"type":"quantitative","axis":null}}},
{"data":{"values":[{}]},"mark":{"type":"text","text":"in","align":"left","baseline":"alphabetic","fontSize":17,"dy":12,"color":"black"},
 "encoding":{"x":{"datum":351.6,"type":"quantitative","axis":null},"y":{"datum":12.726,"type":"quantitative","axis":null}}},
{"data":{"values":[{}]},"mark":{"type":"text","text":"= -6dBm; sig. type A","align":"left","baseline":"alphabetic","fontSize":24,"dy":-2,"color":"black"},
 "encoding":{"x":{"datum":363.5,"type":"quantitative","axis":null},"y":{"datum":12.726,"type":"quantitative","axis":null}}},
{"data":{"values":[{}]},"mark":{"type":"text","text":"P","align":"left","baseline":"alphabetic","fontSize":24,"dy":-2,"color":"black"},
 "encoding":{"x":{"datum":338.8,"type":"quantitative","axis":null},"y":{"datum":11.481,"type":"quantitative","axis":null}}},
{"data":{"values":[{}]},"mark":{"type":"text","text":"in","align":"left","baseline":"alphabetic","fontSize":17,"dy":12,"color":"black"},
 "encoding":{"x":{"datum":351.6,"type":"quantitative","axis":null},"y":{"datum":11.481,"type":"quantitative","axis":null}}},
{"data":{"values":[{}]},"mark":{"type":"text","text":"= -8dBm; sig. type A","align":"left","baseline":"alphabetic","fontSize":24,"dy":-2,"color":"black"},
 "encoding":{"x":{"datum":363.5,"type":"quantitative","axis":null},"y":{"datum":11.481,"type":"quantitative","axis":null}}},
{"data":{"values":[{}]},"mark":{"type":"text","text":"P","align":"left","baseline":"alphabetic","fontSize":24,"dy":-2,"color":"black"},
 "encoding":{"x":{"datum":338.8,"type":"quantitative","axis":null},"y":{"datum":10.237,"type":"quantitative","axis":null}}},
{"data":{"values":[{}]},"mark":{"type":"text","text":"in","align":"left","baseline":"alphabetic","fontSize":17,"dy":12,"color":"black"},
 "encoding":{"x":{"datum":351.6,"type":"quantitative","axis":null},"y":{"datum":10.237,"type":"quantitative","axis":null}}},
{"data":{"values":[{}]},"mark":{"type":"text","text":"= -13dBm; sig. type A","align":"left","baseline":"alphabetic","fontSize":24,"dy":-2,"color":"black"},
 "encoding":{"x":{"datum":363.5,"type":"quantitative","axis":null},"y":{"datum":10.237,"type":"quantitative","axis":null}}}
],
"resolve":{"axis":{"x":"independent","y":"independent"}}
}
